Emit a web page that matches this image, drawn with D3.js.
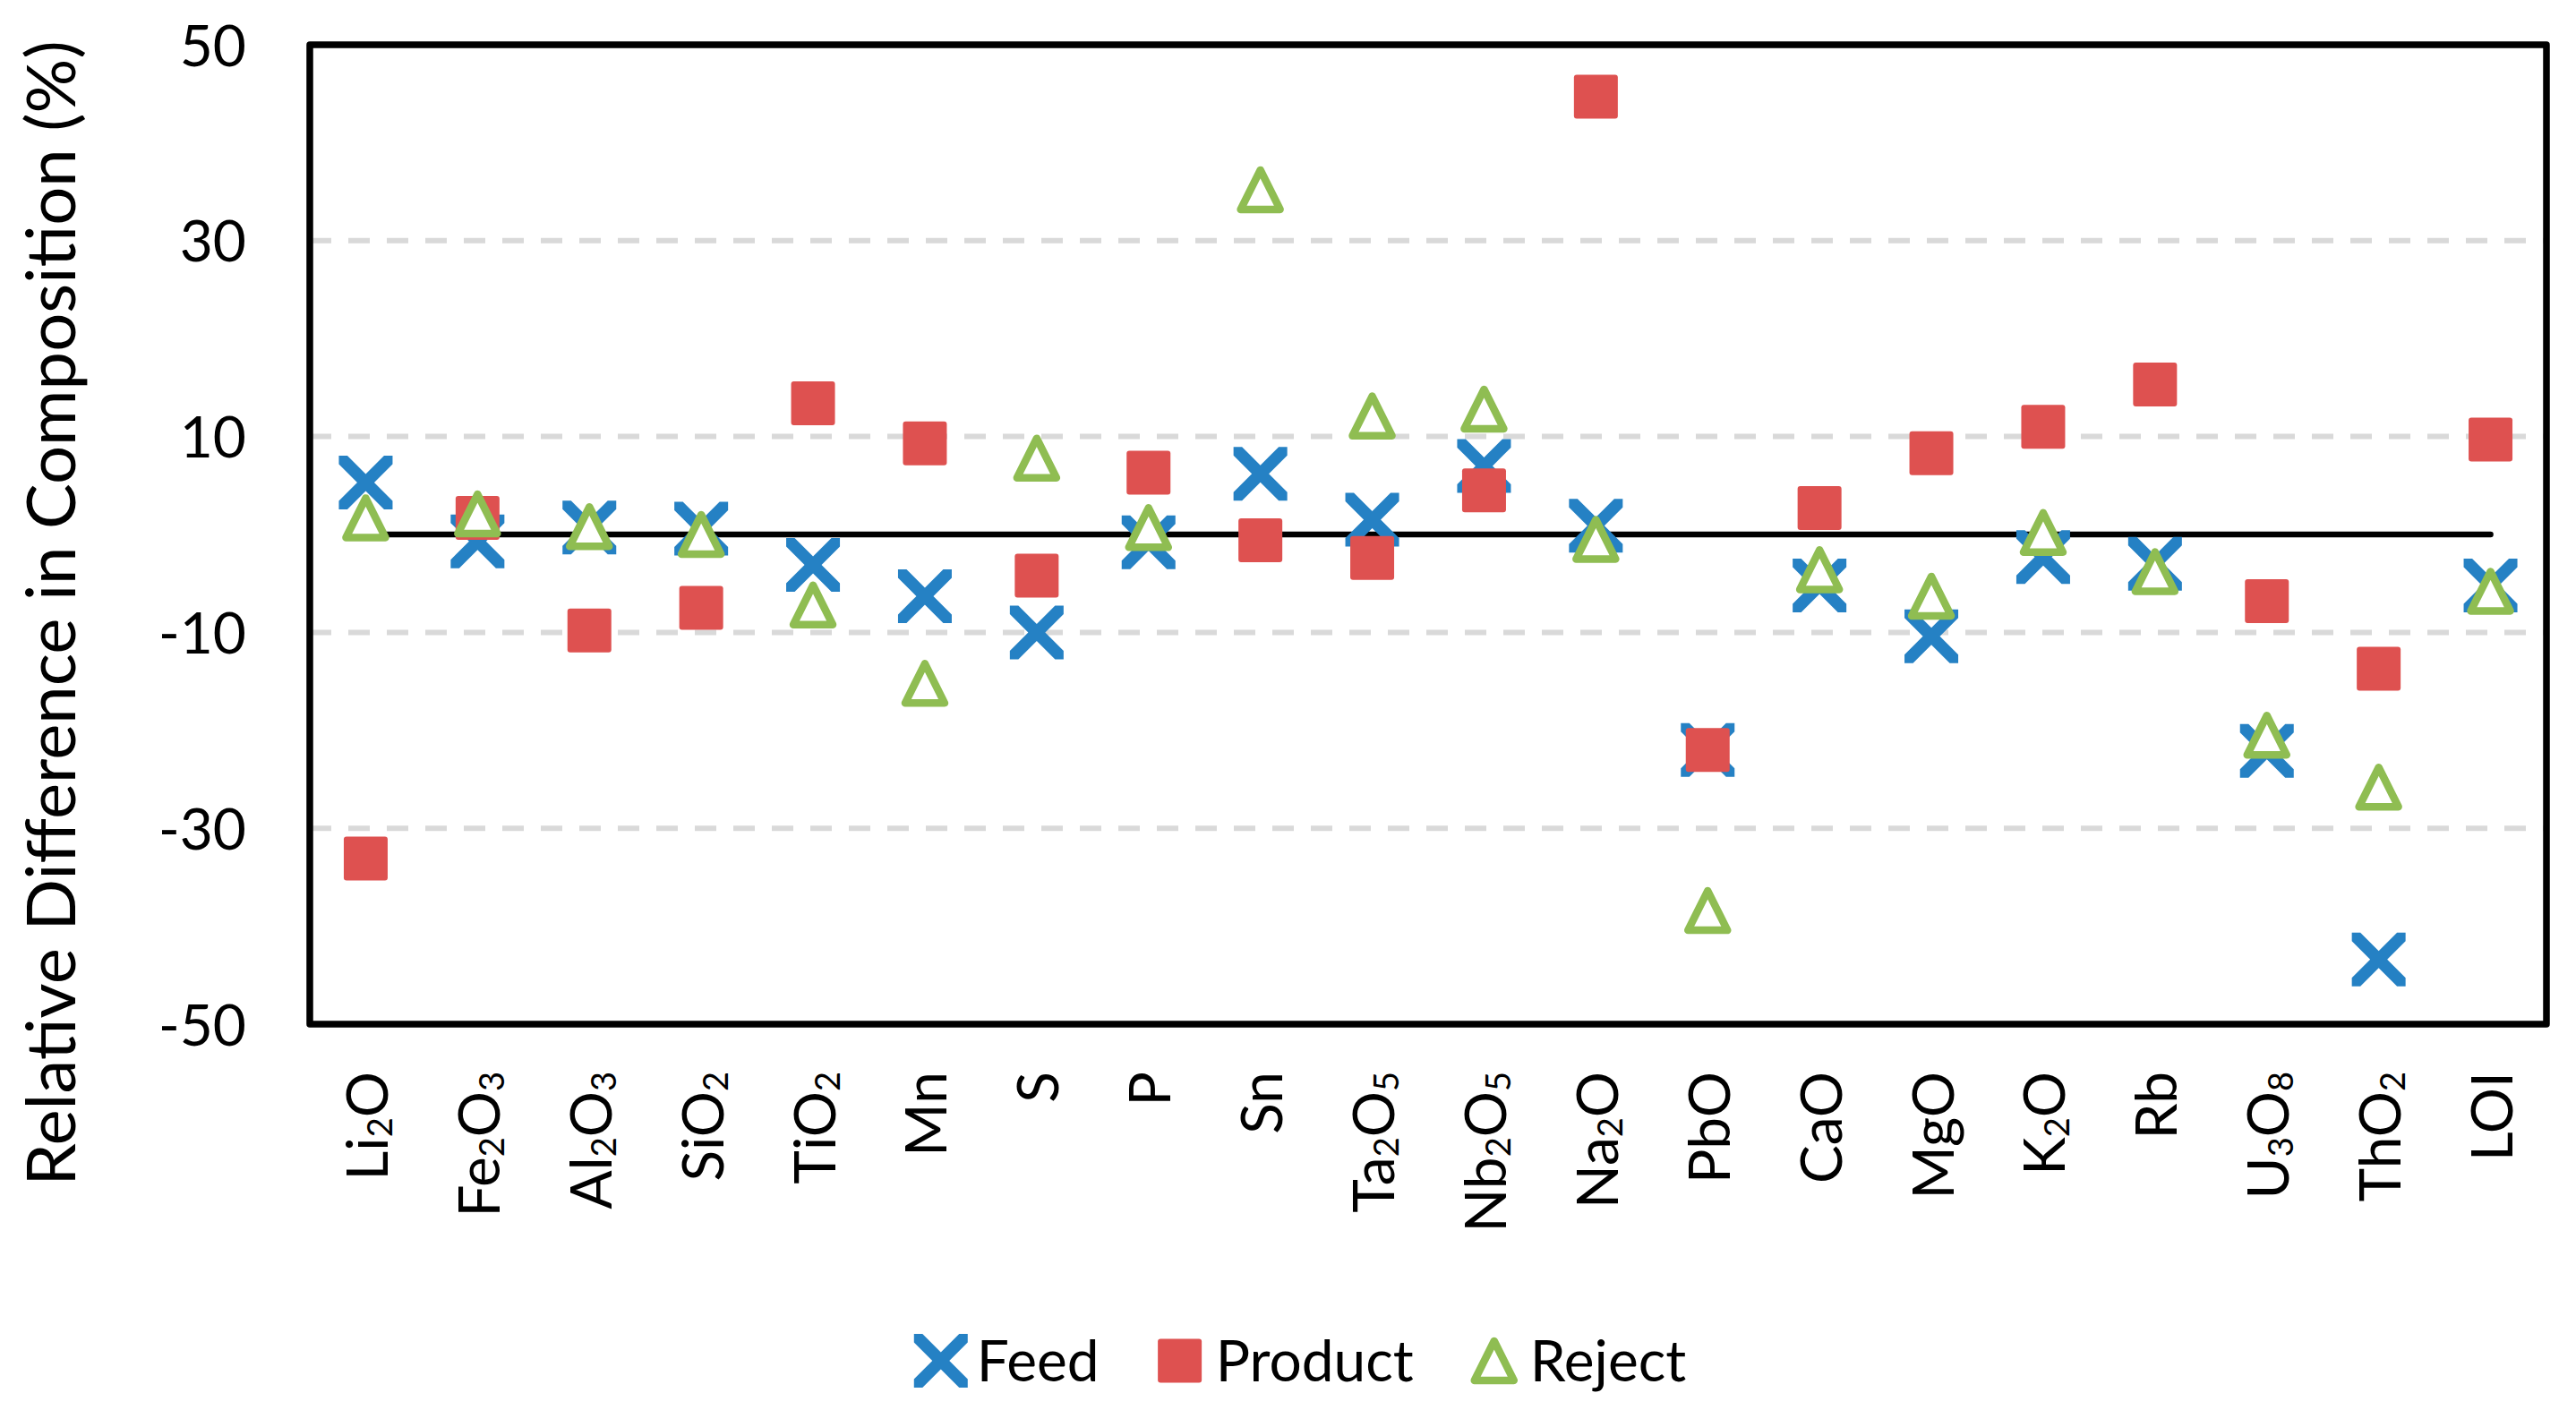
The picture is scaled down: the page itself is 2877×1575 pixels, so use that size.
<!DOCTYPE html>
<html>
<head>
<meta charset="utf-8">
<script src="https://cdn.jsdelivr.net/npm/d3@7"></script>
<style>
  html, body { margin: 0; padding: 0; background: #ffffff; }
  svg { display: block; font-family: Lato, "Open Sans", sans-serif; }
</style>
</head>
<body>
<svg id="chart" width="2877" height="1575"></svg>
<script>
// Categories (digits are written as subscripts)
const categories = ["Li2O", "Fe2O3", "Al2O3", "SiO2", "TiO2", "Mn", "S", "P", "Sn", "Ta2O5",
    "Nb2O5", "Na2O", "PbO", "CaO", "MgO", "K2O", "Rb", "U3O8", "ThO2", "LOI"];

// Relative difference in composition (%) per series
const feed    = [5.3, -0.7, 0.7, 0.6, -3.1, -6.3, -10.0, -0.8, 6.2, 1.5,
                 7.0, 0.9, -22.0, -5.2, -10.4, -2.3, -3.0, -22.1, -43.4, -5.2];
const product = [-33.1, 1.7, -9.8, -7.5, 13.4, 9.3, -4.2, 6.3, -0.6, -2.4,
                 4.5, 44.7, -22.0, 2.7, 8.3, 11.0, 15.3, -6.8, -13.7, 9.7];
const reject  = [1.7, 2.1, 0.8, 0.0, -7.2, -15.2, 7.8, 0.7, 35.2, 12.1,
                 12.8, -0.5, -38.4, -3.6, -6.3, 0.2, -3.8, -20.5, -25.8, -5.8];

const seriesNames = ["Feed", "Product", "Reject"];
const yTicks = [-50, -30, -10, 10, 30, 50];
const gridValues = [-30, -10, 10, 30];

const colors = { Feed: "#2581c4", Product: "#de5150", Reject: "#8fbd52" };

const svg = d3.select("#chart");

// Plot area
const plot = { left: 346, right: 2844, top: 50, bottom: 1144 };

const x = d3.scalePoint()
    .domain(categories)
    .range([plot.left, plot.right])
    .padding(0.5);

const y = d3.scaleLinear()
    .domain([-50, 50])
    .range([plot.bottom, plot.top]);

// Dashed gridlines
svg.append("g")
    .selectAll("line")
    .data(gridValues)
    .join("line")
    .attr("x1", plot.left)
    .attr("x2", plot.right)
    .attr("y1", d => y(d))
    .attr("y2", d => y(d))
    .attr("stroke", "#d9d9d9")
    .attr("stroke-width", 6)
    .attr("stroke-dasharray", "24,19");

// Zero reference line from first to last category
svg.append("line")
    .attr("x1", x(categories[0]))
    .attr("x2", x(categories[categories.length - 1]))
    .attr("y1", y(0))
    .attr("y2", y(0))
    .attr("stroke", "#000")
    .attr("stroke-width", 6.5)
    .attr("stroke-linecap", "round");

// Plot border
svg.append("rect")
    .attr("x", plot.left)
    .attr("y", plot.top)
    .attr("width", plot.right - plot.left)
    .attr("height", plot.bottom - plot.top)
    .attr("fill", "none")
    .attr("stroke", "#000")
    .attr("stroke-width", 7.5)
    .attr("stroke-linejoin", "round");

// Y axis (plain hyphen for negatives, as in the original)
const yAxis = svg.append("g")
    .attr("transform", `translate(${plot.left},0)`)
    .call(d3.axisLeft(y).tickValues(yTicks).tickFormat(d => String(d)).tickSize(0).tickPadding(71))
    .call(g => g.select(".domain").remove());
yAxis.selectAll("text")
    .attr("font-family", "Lato")
    .attr("font-size", 64)
    .attr("fill", "#000")
    .attr("dy", "0.36em");

// X axis with rotated labels and subscripts
const xAxis = svg.append("g")
    .attr("transform", `translate(0,${plot.bottom})`)
    .call(d3.axisBottom(x).tickSize(0))
    .call(g => g.select(".domain").remove());
xAxis.selectAll("text")
    .attr("font-family", "Lato")
    .attr("font-size", 64)
    .attr("fill", "#000")
    .attr("x", 0).attr("y", 0).attr("dy", 0)
    .attr("text-anchor", "end")
    .attr("transform", "translate(24,53) rotate(-90)")
    .each(function(d) {
        const t = d3.select(this).text("");
        let shifted = false;
        d.match(/\d+|\D+/g).forEach(part => {
            if (/\d/.test(part)) {
                t.append("tspan").attr("font-size", 38).attr("dy", 5).text(part);
                shifted = true;
            } else {
                t.append("tspan").attr("dy", shifted ? -5 : 0).text(part);
                shifted = false;
            }
        });
    });

// Marker shapes
function xMarker(h, d) {
    return `M${-h},${-h}L${-h + d},${-h}L0,${-d}L${h - d},${-h}L${h},${-h}L${h},${-h + d}L${d},0` +
           `L${h},${h - d}L${h},${h}L${h - d},${h}L0,${d}L${-h + d},${h}L${-h},${h}L${-h},${h - d}` +
           `L${-d},0L${-h},${-h + d}Z`;
}
function drawMarker(sel, name) {
    if (name === "Feed") {
        sel.append("path").attr("d", xMarker(30, 9.5)).attr("fill", colors.Feed);
    } else if (name === "Product") {
        sel.append("rect").attr("x", -24.5).attr("y", -24.5)
            .attr("width", 49).attr("height", 49).attr("rx", 3)
            .attr("fill", colors.Product);
    } else {
        sel.append("path").attr("d", "M0,-22L22,22L-22,22Z")
            .attr("fill", "#fff")
            .attr("stroke", colors.Reject)
            .attr("stroke-width", 8.5)
            .attr("stroke-linejoin", "round");
    }
}

const seriesData = { Feed: feed, Product: product, Reject: reject };

seriesNames.forEach(name => {
    svg.append("g")
        .selectAll("g")
        .data(seriesData[name].map((v, i) => ({ cat: categories[i], value: v })))
        .join("g")
        .attr("transform", d => `translate(${x(d.cat)},${y(d.value)})`)
        .each(function() { drawMarker(d3.select(this), name); });
});

// Y axis title
svg.append("text")
    .attr("transform", "translate(84,685) rotate(-90)")
    .attr("text-anchor", "middle")
    .attr("font-family", "Lato")
    .attr("font-size", 76)
    .attr("fill", "#000")
    .text("Relative Difference in Composition (%)");

// Legend
const legend = svg.append("g");
let cursor = 0;
seriesNames.forEach(name => {
    const item = legend.append("g").attr("transform", `translate(${cursor},0)`);
    drawMarker(item.append("g").attr("transform", "translate(28,0)"), name);
    const label = item.append("text")
        .attr("x", 68)
        .attr("dy", "0.36em")
        .attr("font-family", "Lato")
        .attr("font-size", 64)
        .attr("fill", "#000")
        .text(name);
    cursor += 68 + label.node().getComputedTextLength() + 62;
});
const legendWidth = cursor - 62;
legend.attr("transform", `translate(${1453 - legendWidth / 2},1520)`);
</script>
</body>
</html>
